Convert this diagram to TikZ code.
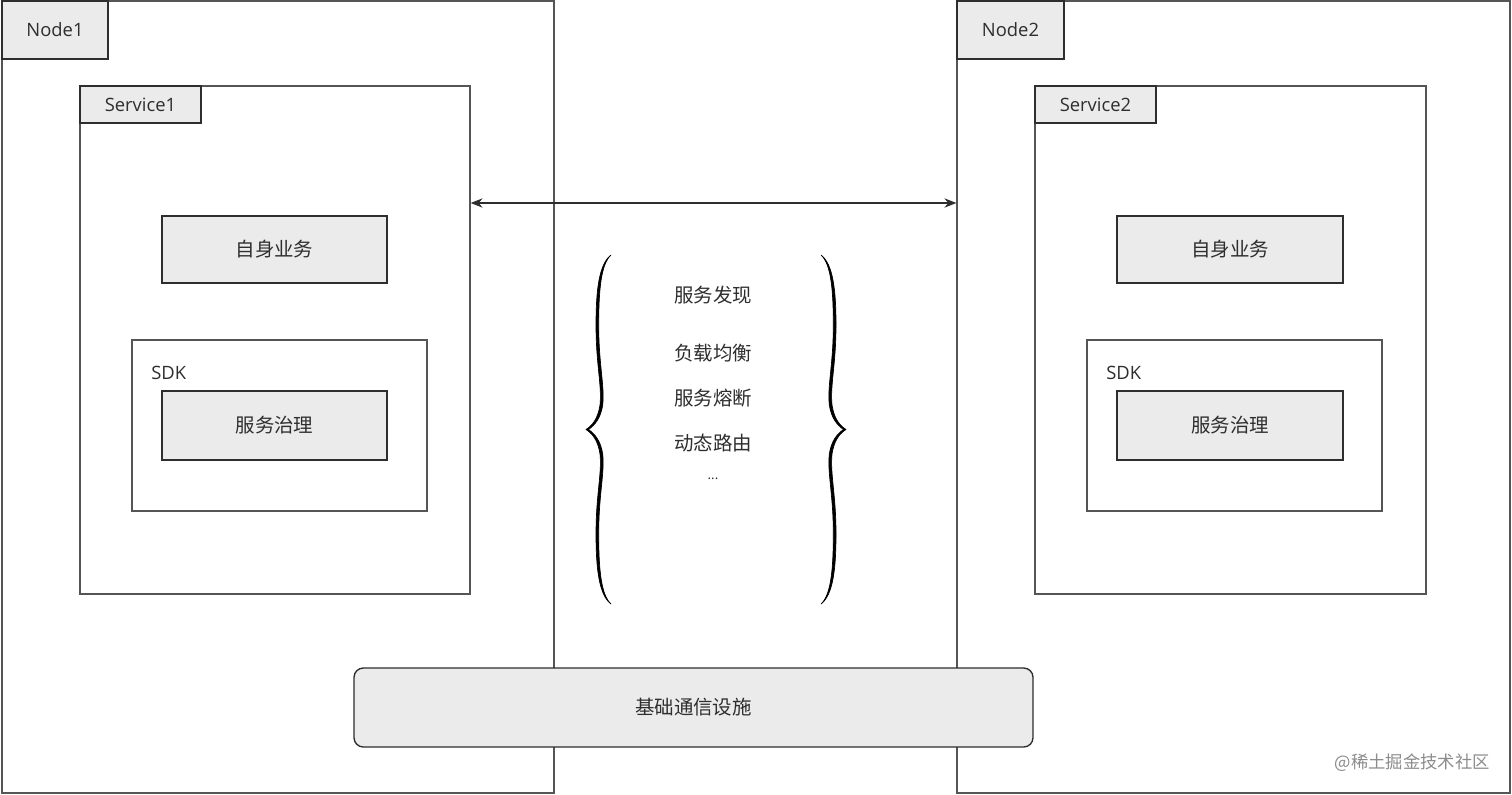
\documentclass[tikz,border=0pt]{standalone}
\usepackage{fontspec}
\setmainfont{Open Sans}
\newfontfamily\cjk{Noto Sans CJK SC}
\usetikzlibrary{fit,arrows.meta}
\definecolor{boxfill}{HTML}{EBEBEB}
\definecolor{edgecol}{HTML}{555555}
\definecolor{txt}{HTML}{2E2E2E}
\def\mybracepath{(611,255) .. controls (599,264) and (596,290) .. (596,325)
  .. controls (596,365) and (602,385) .. (600,405)
  .. controls (598,418) and (593,425) .. (586,429.5)
  .. controls (593,434) and (598,441) .. (600,454)
  .. controls (602,474) and (596,494) .. (596,534)
  .. controls (596,569) and (599,595) .. (611,604)
  .. controls (601,595) and (598.7,569) .. (598.7,534)
  .. controls (598.7,494) and (604.7,474) .. (602.7,454)
  .. controls (600.7,441) and (595,434) .. (588.5,429.5)
  .. controls (595,425) and (600.7,418) .. (602.7,405)
  .. controls (604.7,385) and (598.7,365) .. (598.7,325)
  .. controls (598.7,290) and (601,264) .. (611,255) -- cycle}
\begin{document}
\begin{tikzpicture}[x=0.75pt,y=-0.75pt,
  frame/.style={draw=edgecol,line width=0.9pt,inner sep=0pt,fill=white},
  graybox/.style={draw=txt,line width=1pt,inner sep=0pt,fill=boxfill},
  lat/.style={font=\fontsize{13.8}{16}\selectfont,text=txt,inner sep=0pt},
  zh/.style={font=\cjk\fontsize{14.6}{17}\selectfont,text=txt,inner sep=0pt},
  brace/.style={line width=0.5pt,line join=round,draw=black,fill=black},
  arr/.style={draw=txt,line width=0.8pt,{Stealth[length=9pt,width=7pt]}-{Stealth[length=9pt,width=7pt]}}
]
\useasboundingbox (0,0) rectangle (1512,795);
\fill[white] (0,0) rectangle (1512,795);

% ---------- Node1 ----------
\coordinate (n1a) at (2,1); \coordinate (n1b) at (554,793);
\node[frame,fit=(n1a)(n1b)] (node1) {};
\coordinate (n1la) at (2,1); \coordinate (n1lb) at (108,59);
\node[graybox,fit=(n1la)(n1lb)] (node1lab) {};
\node[lat] (node1txt) at (node1lab.center) {Node1};

\coordinate (s1a) at (80,86); \coordinate (s1b) at (470,594);
\node[frame,fit=(s1a)(s1b)] (service1) {};
\coordinate (s1la) at (80,86); \coordinate (s1lb) at (201,123);
\node[graybox,fit=(s1la)(s1lb)] (service1lab) {};
\node[lat] (service1txt) at (service1lab.center) {Service1};

\coordinate (b1a) at (162,216); \coordinate (b1b) at (387,283);
\node[graybox,fit=(b1a)(b1b)] (biz1) {};
\node[zh] (biz1txt) at (biz1.center) {自身业务};

\coordinate (k1a) at (132,340); \coordinate (k1b) at (427,511);
\node[frame,fit=(k1a)(k1b)] (sdk1) {};
\node[lat,anchor=west] (sdk1txt) at (151,373) {SDK};
\coordinate (g1a) at (162,391); \coordinate (g1b) at (387,460);
\node[graybox,fit=(g1a)(g1b)] (gov1) {};
\node[zh] (gov1txt) at (gov1.center) {服务治理};

% ---------- Node2 ----------
\coordinate (n2a) at (957,1); \coordinate (n2b) at (1510,793);
\node[frame,fit=(n2a)(n2b)] (node2) {};
\coordinate (n2la) at (957,1); \coordinate (n2lb) at (1064,59);
\node[graybox,fit=(n2la)(n2lb)] (node2lab) {};
\node[lat] (node2txt) at (node2lab.center) {Node2};

\coordinate (s2a) at (1035,86); \coordinate (s2b) at (1426,594);
\node[frame,fit=(s2a)(s2b)] (service2) {};
\coordinate (s2la) at (1035,86); \coordinate (s2lb) at (1156,123);
\node[graybox,fit=(s2la)(s2lb)] (service2lab) {};
\node[lat] (service2txt) at (service2lab.center) {Service2};

\coordinate (b2a) at (1117,216); \coordinate (b2b) at (1343,283);
\node[graybox,fit=(b2a)(b2b)] (biz2) {};
\node[zh] (biz2txt) at (biz2.center) {自身业务};

\coordinate (k2a) at (1087,340); \coordinate (k2b) at (1382,511);
\node[frame,fit=(k2a)(k2b)] (sdk2) {};
\node[lat,anchor=west] (sdk2txt) at (1106,373) {SDK};
\coordinate (g2a) at (1117,391); \coordinate (g2b) at (1343,460);
\node[graybox,fit=(g2a)(g2b)] (gov2) {};
\node[zh] (gov2txt) at (gov2.center) {服务治理};

% ---------- arrow ----------
\coordinate (ay) at (0,203);
\draw[arr] (service1.east |- ay) -- (node2.west |- ay);

% ---------- braces ----------
\filldraw[brace] \mybracepath;
\begin{scope}[shift={(1432,0)},xscale=-1]
  \filldraw[brace] \mybracepath;
\end{scope}

% ---------- list ----------
\node[zh] (f1) at (713,295) {服务发现};
\node[zh] (f2) at (713,353) {负载均衡};
\node[zh] (f3) at (713,398) {服务熔断};
\node[zh] (f4) at (713,443) {动态路由};
\node[lat,font=\fontsize{10}{12}\selectfont] (f5) at (713,479) {...};

% ---------- infrastructure ----------
\coordinate (ia) at (354,668); \coordinate (ib) at (1033,747);
\node[graybox,rounded corners=7pt,fit=(ia)(ib)] (infra) {};
\node[zh] (infratxt) at (infra.center) {基础通信设施};

% ---------- watermark ----------
\node[font=\cjk\fontsize{13}{15}\selectfont,text=black!45,anchor=east,inner sep=0pt] (wm) at (1490,763) {@稀土掘金技术社区};
\end{tikzpicture}
\end{document}
